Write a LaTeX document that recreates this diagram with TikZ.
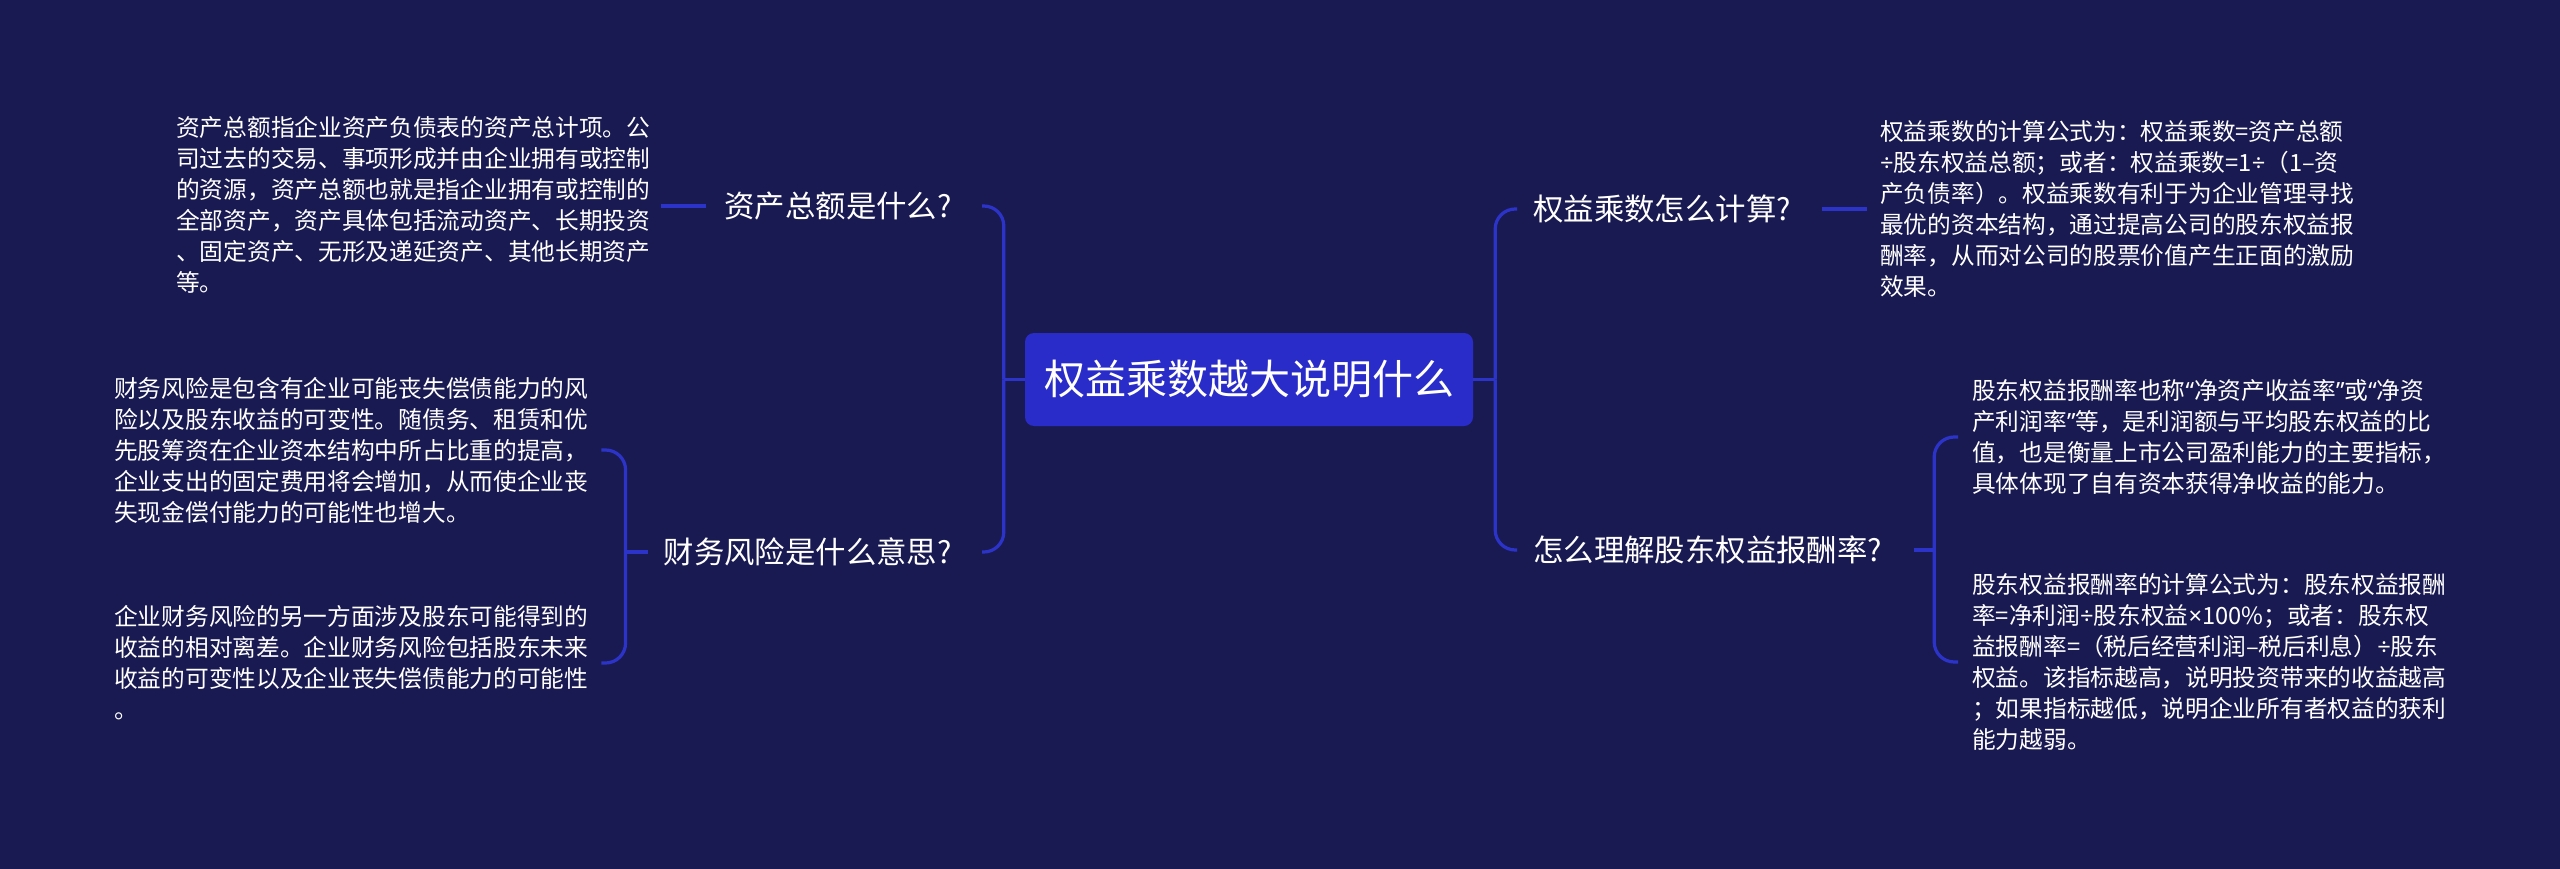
\documentclass[tikz,border=0pt]{standalone}
\usepackage{fontspec}
\usetikzlibrary{calc}
\newfontfamily\cjk{Noto Sans CJK SC}
\newfontfamily\lat{Noto Sans}
\newcommand\lt[1]{{\lat #1}}
\definecolor{bg}{HTML}{1A1A52}
\definecolor{rootfill}{HTML}{2A2CC9}
\definecolor{linec}{HTML}{2C33C8}
\begin{document}
\begin{tikzpicture}[x=1pt,y=-1pt,
 conn/.style={draw=linec,line width=3.2pt},
 bracket/.style={conn,rounded corners=20pt},
 rootbox/.style={fill=rootfill,rounded corners=9pt,minimum width=448pt,minimum height=93pt,inner sep=0pt,text=white,font=\cjk\fontsize{41pt}{50pt}\selectfont},
 branch/.style={inner sep=0pt,text=white,font=\cjk\fontsize{30.4pt}{36pt}\selectfont},
 desc/.style={inner sep=0pt,text=white,align=left,font=\cjk\fontsize{23.7pt}{31pt}\selectfont},
]
\fill[bg] (0,0) rectangle (2560,869);
\useasboundingbox (0,0) rectangle (2560,869);

\node[rootbox] (root) at (1249,379.5) {权益乘数越大说明什么};
\node[branch,anchor=east] (lA) at (952,206) {资产总额是什么?};
\node[branch,anchor=east] (lB) at (952,552) {财务风险是什么意思?};
\node[branch,anchor=west] (rA) at (1533,209) {权益乘数怎么计算?};
\node[branch,anchor=west] (rB) at (1533,550) {怎么理解股东权益报酬率?};

\node[desc,anchor=west] (dA) at (176,205) {资产总额指企业资产负债表的资产总计项。公\\司过去的交易、事项形成并由企业拥有或控制\\的资源，资产总额也就是指企业拥有或控制的\\全部资产，资产具体包括流动资产、长期投资\\、固定资产、无形及递延资产、其他长期资产\\等。};
\node[desc,anchor=west] (dB1) at (114,450) {财务风险是包含有企业可能丧失偿债能力的风\\险以及股东收益的可变性。随债务、租赁和优\\先股筹资在企业资本结构中所占比重的提高，\\企业支出的固定费用将会增加，从而使企业丧\\失现金偿付能力的可能性也增大。};
\node[desc,anchor=west] (dB2) at (114,663) {企业财务风险的另一方面涉及股东可能得到的\\收益的相对离差。企业财务风险包括股东未来\\收益的可变性以及企业丧失偿债能力的可能性\\。};
\node[desc,anchor=west] (dRA) at (1880,209) {权益乘数的计算公式为：权益乘数=资产总额\\\lt{÷}股东权益总额；或者：权益乘数=1\lt{÷}（1–资\\产负债率）。权益乘数有利于为企业管理寻找\\最优的资本结构，通过提高公司的股东权益报\\酬率，从而对公司的股票价值产生正面的激励\\效果。};
\node[desc,anchor=west] (dRB1) at (1972,437) {股东权益报酬率也称\lt{“}净资产收益率\lt{”}或\lt{“}净资\\产利润率\lt{”}等，是利润额与平均股东权益的比\\值，也是衡量上市公司盈利能力的主要指标，\\具体体现了自有资本获得净收益的能力。};
\node[desc,anchor=west] (dRB2) at (1972,662) {股东权益报酬率的计算公式为：股东权益报酬\\率=净利润\lt{÷}股东权益\lt{×}100\%；或者：股东权\\益报酬率=（税后经营利润–税后利息）\lt{÷}股东\\权益。该指标越高，说明投资带来的收益越高\\；如果指标越低，说明企业所有者权益的获利\\能力越弱。};

\coordinate (jl) at ($(root.west)+(-21,0)$);
\coordinate (jr) at ($(root.east)+(22,0)$);
\draw[conn] (root.west) -- (jl);
\draw[conn] (root.east) -- (jr);
\draw[bracket] (jl) |- ($(lA.east)+(30,0)$);
\draw[bracket] (jl) |- ($(lB.east)+(30,0)$);
\draw[bracket] (jr) |- ($(rA.west)+(-16,0)$);
\draw[bracket] (jr) |- ($(rB.west)+(-16,0)$);

\draw[conn] ($(lA.west)+(-18,0)$) -- ($(dA.east |- lA.west)+(11,0)$);
\coordinate (jl2) at ($(lB.west)+(-38,0)$);
\draw[conn] ($(lB.west)+(-16,0)$) -- (jl2);
\draw[bracket] (jl2) |- ($(dB1.east)+(13,0)$);
\draw[bracket] (jl2) |- ($(dB2.east)+(13,0)$);

\draw[conn] ($(rA.east)+(31,0)$) -- ($(dRA.west |- rA.east)+(-13,0)$);
\coordinate (jr2) at ($(rB.east)+(52,0)$);
\draw[conn] ($(rB.east)+(32,0)$) -- (jr2);
\draw[bracket] (jr2) |- ($(dRB1.west)+(-14,0)$);
\draw[bracket] (jr2) |- ($(dRB2.west)+(-14,0)$);
\end{tikzpicture}
\end{document}
